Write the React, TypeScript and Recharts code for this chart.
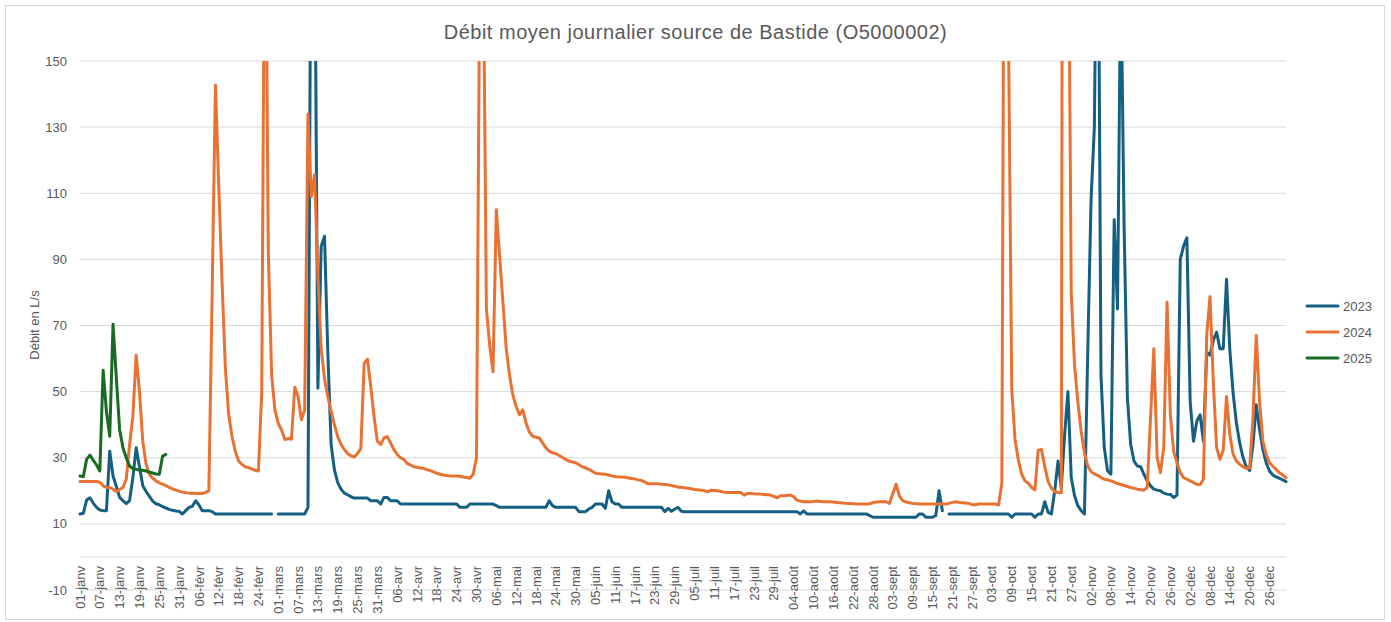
import React from 'react';
import { LineChart, Line, XAxis, YAxis, CartesianGrid, ReferenceLine, Legend } from 'recharts';

const monthNames = ['janv', 'févr', 'mars', 'avr', 'mai', 'juin', 'juil', 'août', 'sept', 'oct', 'nov', 'déc'];
const monthDays = [31, 29, 31, 30, 31, 30, 31, 31, 30, 31, 30, 31];

const dayLabels: string[] = [];
monthNames.forEach((m, mi) => {
  for (let d = 1; d <= monthDays[mi]; d++) dayLabels.push(`${String(d).padStart(2, '0')}-${m}`);
});

// débit journalier (L/s), un point par jour, 29-févr absent en 2023
const flow2023 = [
  13, 13.2, 17.2, 17.9, 16.3, 15, 14.2, 14, 14, 32,
  24.5, 21.3, 18, 17, 16.1, 17, 24, 33, 27.3, 21.5,
  19.8, 18.3, 16.9, 16.1, 15.8, 15.2, 14.8, 14.4, 14.1, 13.9,
  13.8, 13, 14, 15, 15.3, 17, 15.7, 14, 14, 14,
  13.7, 13, 13, 13, 13, 13, 13, 13, 13, 13,
  13, 13, 13, 13, 13, 13, 13, 13, 13, null,
  13, 13, 13, 13, 13, 13, 13, 13, 13, 15,
  220, 200, 51, 94, 97, 62, 34, 26.3, 22.5, 20.5,
  19.3, 18.8, 18.2, 17.8, 17.8, 17.8, 17.8, 17.8, 17, 17,
  17, 16, 18, 18, 17, 17, 17, 16, 16, 16,
  16, 16, 16, 16, 16, 16, 16, 16, 16, 16,
  16, 16, 16, 16, 16, 15, 15, 15, 16, 16,
  16, 16, 16, 16, 16, 16, 15.5, 15, 15, 15,
  15, 15, 15, 15, 15, 15, 15, 15, 15, 15,
  15, 15, 17, 15.5, 15, 15, 15, 15, 15, 15,
  15, 13.7, 13.7, 13.7, 14.5, 15, 16, 16, 16, 14.7,
  20, 16.7, 16, 16, 15, 15, 15, 15, 15, 15,
  15, 15, 15, 15, 15, 15, 15, 13.7, 14.7, 13.8,
  14.5, 15, 13.8, 13.7, 13.7, 13.7, 13.7, 13.7, 13.7, 13.7,
  13.7, 13.7, 13.7, 13.7, 13.7, 13.7, 13.7, 13.7, 13.7, 13.7,
  13.7, 13.7, 13.7, 13.7, 13.7, 13.7, 13.7, 13.7, 13.7, 13.7,
  13.7, 13.7, 13.7, 13.7, 13.7, 13.7, 13.7, 13.7, 13, 13.9,
  13, 13, 13, 13, 13, 13, 13, 13, 13, 13,
  13, 13, 13, 13, 13, 13, 13, 13, 13, 12.5,
  12, 12, 12, 12, 12, 12, 12, 12, 12, 12,
  12, 12, 12, 12, 13, 13, 12, 12, 12, 12.5,
  20, 14, null, 13, 13, 13, 13, 13, 13, 13,
  13, 13, 13, 13, 13, 13, 13, 13, 13, 13,
  13, 13, 12, 13, 13, 13, 13, 13, 13, 12,
  13, 13, 16.7, 13.5, 13, 20, 29, 21, 37, 50,
  24, 18.5, 15.5, 14, 13, 62, 108, 130, 230, 55,
  33, 26, 25, 102, 75, 180, 100, 48, 34, 29,
  27.5, 27.3, 25, 23, 21.5, 20.5, 20.2, 20, 19.3, 19,
  18.9, 18, 18.7, 90, 94, 96.5, 47, 35, 41, 43,
  35, 62, 61, 65.5, 68, 63, 63, 84, 62.6, 49.5,
  40.4, 34.4, 30, 27.3, 26.1, 34, 46, 38.5, 32.5, 28.5,
  26, 24.8, 24.2, 23.8, 23.3, 22.8,
];

const flow2024 = [
  22.8, 22.8, 22.8, 22.8, 22.8, 22.8, 22.6, 21.5, 21, 21,
  20.5, 19.8, 20.4, 21, 23.5, 34, 42.5, 61, 50, 35,
  28, 25, 23.8, 23, 22.4, 22, 21.6, 21, 20.6, 20.2,
  19.9, 19.6, 19.4, 19.3, 19.3, 19.2, 19.2, 19.2, 19.5, 20,
  80, 142.7, 112, 83, 57, 43, 36.5, 32, 29, 28,
  27.3, 27, 26.6, 26.2, 26, 50, 220, 92, 55, 44.4,
  40.4, 38.4, 35.5, 35.8, 35.6, 51.3, 48.5, 41.5, 44.5, 134,
  109, 115.5, 85, 63, 54, 48.5, 44, 40, 36.4, 34,
  32.5, 31.3, 30.6, 30.2, 31.3, 32.8, 58.5, 59.8, 51.5, 42.4,
  35, 34, 36, 36.4, 34.5, 32.5, 31, 30, 29.5, 28.3,
  27.8, 27.3, 27.1, 26.9, 26.8, 26.4, 26.1, 25.7, 25.3, 25,
  24.8, 24.6, 24.5, 24.5, 24.5, 24.4, 24.2, 24, 23.8, 25,
  30, 180, 190, 75, 64, 56, 105, 91, 77, 63,
  55, 49, 45.5, 43, 44.5, 40.5, 37.8, 36.5, 36.2, 36,
  34.5, 33, 32, 31.5, 31.3, 30.7, 30.1, 29.5, 29, 28.7,
  28.5, 27.9, 27.3, 26.9, 26.5, 25.9, 25.3, 25.2, 25.1, 25,
  24.8, 24.5, 24.3, 24.2, 24.2, 24.1, 23.9, 23.7, 23.6, 23.3,
  23.1, 22.6, 22.1, 22.1, 22.1, 22.1, 22, 21.9, 21.8, 21.6,
  21.4, 21.1, 21.1, 20.9, 20.8, 20.6, 20.4, 20.3, 20.2, 20,
  19.7, 20.2, 20.1, 20, 19.8, 19.6, 19.5, 19.5, 19.5, 19.5,
  19.5, 18.7, 19.2, 19.2, 19.1, 19, 19, 18.9, 18.8, 18.7,
  18.3, 17.9, 18.5, 18.5, 18.6, 18.7, 18.2, 17.2, 16.9, 16.7,
  16.7, 16.7, 16.8, 16.9, 16.8, 16.7, 16.7, 16.7, 16.6, 16.5,
  16.4, 16.3, 16.2, 16.2, 16.1, 16, 16, 16, 16, 16.1,
  16.4, 16.6, 16.7, 16.7, 16.7, 16.2, 19.2, 22, 18.4, 17,
  16.6, 16.4, 16.2, 16.1, 16, 16, 16, 16, 16, 16,
  16, 16, 16, 16.2, 16.5, 16.7, 16.5, 16.4, 16.3, 16.2,
  15.8, 15.8, 16, 16, 16, 16, 16, 16, 15.7, 22.3,
  300, 160, 50.5, 35.4, 29.3, 25, 23, 22.3, 21, 20.3,
  32.3, 32.5, 27.3, 22.8, 20.8, 19.8, 19.5, 19.4, 600, 220,
  80, 58, 47, 38, 31.5, 27.5, 25.8, 25.1, 24.7, 24,
  23.5, 23.3, 23, 22.6, 22.2, 21.9, 21.6, 21.3, 21, 20.8,
  20.5, 20.3, 20.2, 21, 42, 63, 30, 25.5, 33, 77,
  43, 32, 28.5, 25.5, 24, 23.5, 23, 22.5, 22, 21.8,
  23.5, 67, 78.7, 53, 33, 29.5, 32.3, 48.5, 37, 31,
  29, 28, 27.3, 26.8, 27, 42, 67, 47, 35, 31,
  28.5, 27.5, 26.5, 25.5, 24.8, 24,
];

const flow2025 = [
  24.5, 24.3, 29.5, 30.8, 29.3, 27.8, 26, 56.5, 44, 36.5,
  70.4, 54, 38.5, 33, 30, 27.5, 26.7, 26.5, 26.3, 26.2,
  26, 25.7, 25.4, 25.1, 25, 30.5, 31,
];

const yTicks = [-10, 10, 30, 50, 70, 90, 110, 130, 150];

const series = [
  { key: 'y2023', name: '2023', color: '#156082' },
  { key: 'y2024', name: '2024', color: '#E97132' },
  { key: 'y2025', name: '2025', color: '#196B24' },
];

const data = dayLabels.map((day, i) => ({
  day,
  y2023: flow2023[i],
  y2024: flow2024[i],
  y2025: i < flow2025.length ? flow2025[i] : null,
}));

const font = '"Liberation Sans", Arial, sans-serif';
const textColor = '#595959';

const DayTick = ({ x, y, payload }: any) => (
  <g transform={`translate(${x},${y - 24})`}>
    <text transform="rotate(-90)" textAnchor="end" dy="0.35em" fontSize={13} fontFamily={font} fill={textColor}>
      {payload.value}
    </text>
  </g>
);

const LegendBox = () => (
  <div style={{ fontFamily: font, fontSize: 13, color: textColor }}>
    {series.map((s) => (
      <div key={s.key} style={{ display: 'flex', alignItems: 'center', height: 26 }}>
        <svg width={35} height={6}>
          <line x1={2} y1={3} x2={33} y2={3} stroke={s.color} strokeWidth={3} strokeLinecap="round" />
        </svg>
        <span style={{ marginLeft: 3 }}>{s.name}</span>
      </div>
    ))}
  </div>
);

export default function App() {
  return (
    <div style={{ position: 'absolute', left: 0, top: 0, width: 1391, height: 622, background: '#fff' }}>
      <div style={{ position: 'absolute', left: 5, top: 5, width: 1378, height: 613, border: '1px solid #d9d9d9' }} />
      <div
        style={{
          position: 'absolute', left: 0, top: 20, width: 1391, textAlign: 'center',
          fontFamily: font, fontSize: 20, letterSpacing: 0.5, lineHeight: '24px', color: textColor,
        }}
      >
        Débit moyen journalier source de Bastide (O5000002)
      </div>
      <div
        style={{
          position: 'absolute', left: -25, top: 317, width: 120, height: 16, lineHeight: '16px',
          textAlign: 'center', transform: 'rotate(-90deg)', fontFamily: font, fontSize: 13, color: textColor,
        }}
      >
        Débit en L/s
      </div>
      <div style={{ position: 'absolute', left: 0, top: 0 }}>
        <LineChart width={1391} height={622} data={data} margin={{ top: 61, right: 105, left: 40, bottom: 2 }}>
          <CartesianGrid vertical={false} stroke="#d9d9d9" />
          <XAxis
            dataKey="day"
            interval={5}
            height={30}
            tickSize={0}
            tickMargin={0}
            axisLine={false}
            tickLine={false}
            tick={<DayTick />}
          />
          <YAxis
            width={40}
            domain={[-10, 150]}
            ticks={yTicks}
            allowDataOverflow
            axisLine={false}
            tickLine={false}
            tickSize={0}
            tickMargin={13}
            tick={{ fontSize: 13, fontFamily: font, fill: textColor }}
          />
          <ReferenceLine y={0} stroke="#d9d9d9" strokeWidth={1} />
          {series.map((s) => (
            <Line
              key={s.key}
              type="linear"
              dataKey={s.key}
              name={s.name}
              stroke={s.color}
              strokeWidth={3}
              strokeLinecap="round"
              strokeLinejoin="round"
              dot={false}
              activeDot={false}
              isAnimationActive={false}
            />
          ))}
          <Legend
            layout="vertical"
            align="center"
            verticalAlign="middle"
            content={() => <LegendBox />}
            wrapperStyle={{ left: 1305, top: 293, width: 80 }}
          />
        </LineChart>
      </div>
    </div>
  );
}
